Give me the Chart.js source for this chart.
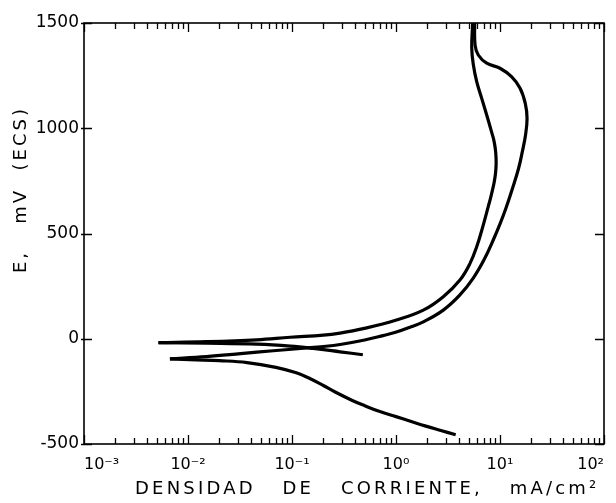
<!DOCTYPE html>
<html>
<head>
<meta charset="utf-8">
<script src="https://cdn.jsdelivr.net/npm/chart.js@4/dist/chart.umd.min.js"></script>
<style>
  html, body { margin: 0; padding: 0; background: #fff; }
  canvas { display: block; }
</style>
</head>
<body>
<canvas id="c" width="616" height="503"></canvas>
<script>
// current density in mA/cm2, potential in mV (ECS)
// forward scan, cathodic branch (from corrosion potential down)
const cathFwdI = [0.0067, 0.012, 0.02, 0.037, 0.07, 0.11, 0.15, 0.2, 0.26, 0.38, 0.5, 0.7, 1.0, 1.4, 1.9, 2.7, 3.75];
const cathFwdE = [-96, -100, -104, -113, -136, -162, -190, -222, -253, -293, -318, -346, -370, -393, -414, -436, -456];
// forward scan, anodic branch up to 1500 mV
const anFwdI = [0.0067, 0.015, 0.032, 0.066, 0.13, 0.2, 0.3, 0.5, 0.75, 1.01, 1.4, 1.83, 2.85, 4.12, 5.51, 7.0, 8.61, 10.05, 11.4, 13.2, 15.1, 16.4, 17.6, 18.2, 17.5, 15.6, 12.9, 10.0, 7.45, 6.18, 5.76, 5.7];
const anFwdE = [-96, -85, -71, -57, -45, -37, -26, -6, 15, 32, 57, 80, 136, 208, 287, 374, 469, 548, 620, 715, 810, 889, 968, 1047, 1118, 1190, 1245, 1285, 1309, 1348, 1395, 1500];
// reverse scan, back down to the second crossing
const revI = [5.46, 5.35, 5.55, 5.97, 6.67, 7.45, 8.28, 8.71, 9.0, 9.15, 9.17, 9.05, 8.8, 8.45, 8.1, 7.73, 6.9, 5.97, 5.15, 4.12, 2.85, 1.83, 1.01, 0.484, 0.29, 0.2, 0.096, 0.046, 0.015, 0.0052];
const revE = [1500, 1380, 1300, 1221, 1142, 1063, 984, 945, 905, 865, 825, 785, 745, 705, 667, 630, 540, 437, 358, 279, 200, 136, 89, 48, 27, 17, 7, -5, -14, -18];
// reverse scan, short cathodic tail
const tailI = [0.0052, 0.015, 0.046, 0.096, 0.16, 0.29, 0.48];
const tailE = [-18, -21, -26, -35, -46, -62, -76];

const xTickVals = [1e-3, 1e-2, 1e-1, 1e0, 1e1, 1e2];
const xTickLabels = ['10\u207B\u00B3', '10\u207B\u00B2', '10\u207B\u00B9', '10\u2070', '10\u00B9', '10\u00B2'];
const yTickVals = [-500, 0, 500, 1000, 1500];

const xTitle = 'DENSIDAD   DE   CORRIENTE,   mA/cm\u00B2';
const yTitle = 'E,   mV  (ECS)';

function pts(xs, ys){ return xs.map((x, i) => ({x: x, y: ys[i]})); }
function curve(xs, ys){
  return {
    data: pts(xs, ys),
    showLine: true,
    borderColor: '#000',
    borderWidth: 3.2,
    pointRadius: 0,
    tension: 0.4,
    fill: false
  };
}

const FONT = '"DejaVu Sans", sans-serif';

// frame, inward ticks and axis titles
const framePlugin = {
  id: 'frame',
  afterDraw(chart){
    const {ctx, chartArea: a, scales} = chart;
    const xs = scales.x, ys = scales.y;
    ctx.save();
    ctx.strokeStyle = '#000';
    ctx.lineWidth = 1.6;
    ctx.strokeRect(a.left, a.top, a.right - a.left, a.bottom - a.top);

    ctx.lineWidth = 1.3;
    ctx.beginPath();
    for(let d = -3; d <= 2; d++){
      for(let k = 1; k <= 9; k++){
        if(d === 2 && k > 1) break;
        const px = Math.round(xs.getPixelForValue(k * Math.pow(10, d))) + 0.5;
        const len = k === 1 ? 9 : 6;
        ctx.moveTo(px, a.bottom); ctx.lineTo(px, a.bottom - len);
        ctx.moveTo(px, a.top); ctx.lineTo(px, a.top + len);
      }
    }
    for(const v of yTickVals){
      const py = Math.round(ys.getPixelForValue(v)) + 0.5;
      ctx.moveTo(a.left - 3, py); ctx.lineTo(a.left + 8, py);
      ctx.moveTo(a.right - 9, py); ctx.lineTo(a.right, py);
    }
    ctx.stroke();

    ctx.fillStyle = '#000';
    ctx.font = '18px ' + FONT;
    ctx.letterSpacing = '3.2px';
    ctx.textAlign = 'left';
    ctx.textBaseline = 'middle';
    ctx.fillText(xTitle, 135, 489);

    ctx.letterSpacing = '3px';
    ctx.translate(21, 273);
    ctx.rotate(-Math.PI / 2);
    ctx.fillText(yTitle, 0, 0);
    ctx.restore();
  }
};

new Chart(document.getElementById('c').getContext('2d'), {
  type: 'scatter',
  data: {
    datasets: [
      curve(cathFwdI, cathFwdE),
      curve(anFwdI, anFwdE),
      curve(revI, revE),
      curve(tailI, tailE)
    ]
  },
  options: {
    responsive: false,
    animation: false,
    devicePixelRatio: 1,
    layout: { padding: { left: 0, right: 12, top: 23, bottom: 0 } },
    plugins: { legend: { display: false }, tooltip: { enabled: false } },
    scales: {
      x: {
        type: 'logarithmic',
        position: 'bottom',
        min: 1e-3,
        max: 1e2,
        grid: { display: false, drawTicks: false, tickLength: 0 },
        border: { display: false },
        afterBuildTicks: s => { s.ticks = xTickVals.map(v => ({value: v})); },
        afterFit: s => { s.height = 59; s.paddingLeft = 0; s.paddingRight = 0; },
        ticks: {
          autoSkip: false,
          maxRotation: 0,
          align: 'inner',
          padding: 11,
          color: '#000',
          font: { family: FONT, size: 16 },
          callback: (v, i) => xTickLabels[i]
        }
      },
      y: {
        min: -500,
        max: 1500,
        grid: { display: false, drawTicks: false, tickLength: 0 },
        border: { display: false },
        afterBuildTicks: s => { s.ticks = yTickVals.map(v => ({value: v})); },
        afterFit: s => { s.width = 84; s.paddingTop = 0; s.paddingBottom = 0; },
        ticks: {
          padding: 5,
          color: '#000',
          font: { family: FONT, size: 17 },
          callback: v => String(v)
        }
      }
    }
  },
  plugins: [framePlugin]
});
</script>
</body>
</html>
